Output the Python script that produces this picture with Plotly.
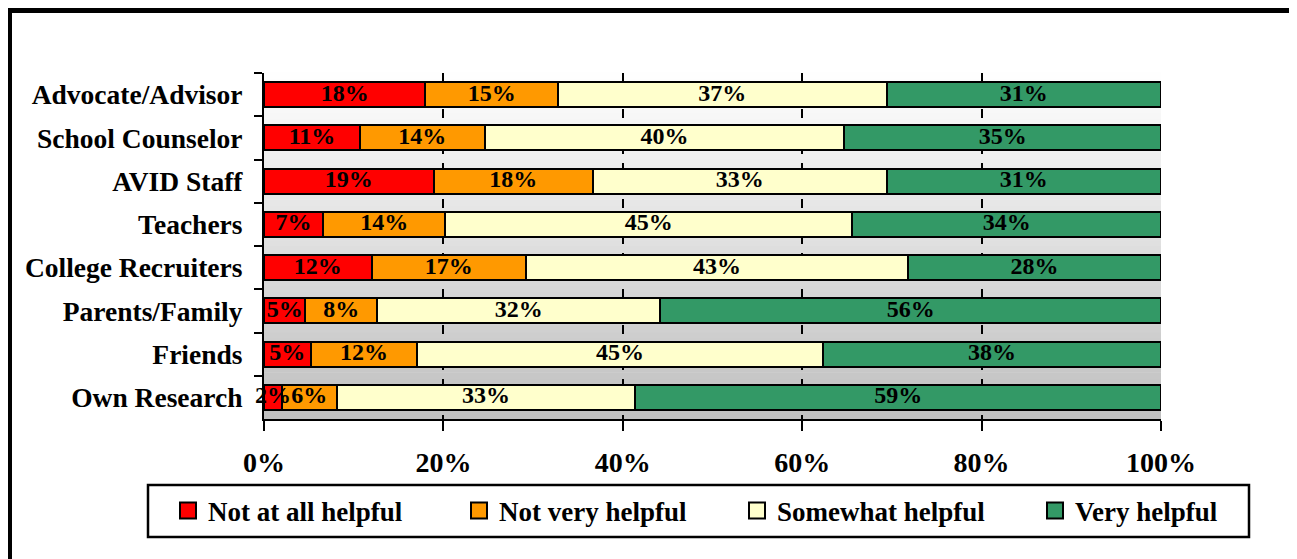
import plotly.graph_objects as go

categories = ["Advocate/Advisor", "School Counselor", "AVID Staff", "Teachers",
              "College Recruiters", "Parents/Family", "Friends", "Own Research"]
series_names = ["Not at all helpful", "Not very helpful", "Somewhat helpful", "Very helpful"]
not_at_all = [18.0, 10.7, 18.9, 6.6, 12.0, 4.6, 5.2, 2.0]
not_very = [14.8, 13.9, 17.8, 13.6, 17.2, 8.0, 11.9, 6.1]
somewhat = [36.6, 40.1, 32.7, 45.4, 42.6, 31.6, 45.2, 33.3]
very = [30.6, 35.3, 30.6, 34.4, 28.2, 55.8, 37.7, 58.6]
x_tick_vals = [0, 20, 40, 60, 80, 100]
x_tick_text = ["0%", "20%", "40%", "60%", "80%", "100%"]

colors = ["#ff0000", "#ff9900", "#ffffcc", "#339966"]
series_values = [not_at_all, not_very, somewhat, very]

# page body has an 8px margin; layout coordinates below are reference pixels
OFF = 8
W, H = 1297 - OFF, 559 - OFF
L, R, T, B = 264, 1161, 73, 419
FONT = "Liberation Serif, Times New Roman, serif"


def px_x(p):
    return (p - L) / (R - L)


def px_y(p):
    return (B - p) / (B - T)


fig = go.Figure()
for name, vals, col in zip(series_names, series_values, colors):
    fig.add_trace(go.Bar(
        y=categories, x=vals, name=name, orientation="h",
        marker=dict(color=col, line=dict(color="black", width=2)),
        showlegend=False, hoverinfo="skip",
    ))

# value labels drawn on top of all bars, centred in each segment
starts = [0.0] * len(categories)
for vals in series_values:
    mids = [s + v / 2 for s, v in zip(starts, vals)]
    fig.add_trace(go.Scatter(
        x=mids, y=categories, mode="text", cliponaxis=False,
        text=[f"{v:.0f}%" for v in vals], textposition="middle center",
        textfont=dict(family=FONT, size=24, color="black", weight="bold"),
        showlegend=False, hoverinfo="skip",
    ))
    starts = [s + v for s, v in zip(starts, vals)]

# legend entries
legend_ids = ["legend", "legend2", "legend3", "legend4"]
for name, col, lg in zip(series_names, colors, legend_ids):
    fig.add_trace(go.Scatter(
        x=[None], y=[None], mode="markers", name=name, legend=lg,
        marker=dict(symbol="square", size=16, color=col,
                    line=dict(color="black", width=2)),
    ))

shapes = []
# gradient background bands
n = 60
for i in range(n):
    f0, f1 = i / n, (i + 1) / n
    fm = (f0 + f1) / 2
    v = int(round(191 + (255 - 191) * fm))
    shapes.append(dict(type="rect", xref="x domain", yref="y domain",
                       x0=0, x1=1, y0=f0, y1=f1 + 0.002, layer="below",
                       line=dict(width=0), fillcolor=f"rgb({v},{v},{v})"))
# outer frame
shapes.append(dict(type="line", xref="paper", yref="paper",
                   x0=px_x(9.5), x1=px_x(9.5), y0=px_y(8), y1=px_y(570),
                   line=dict(color="black", width=5)))
shapes.append(dict(type="line", xref="paper", yref="paper",
                   x0=px_x(7), x1=px_x(1297), y0=px_y(10.5), y1=px_y(10.5),
                   line=dict(color="black", width=5)))
shapes.append(dict(type="line", xref="paper", yref="paper",
                   x0=px_x(1295), x1=px_x(1295), y0=px_y(10), y1=px_y(570),
                   line=dict(color="#333333", width=1.5)))
# legend box
shapes.append(dict(type="rect", xref="paper", yref="paper",
                   x0=px_x(148), x1=px_x(1249), y0=px_y(485), y1=px_y(537),
                   line=dict(color="black", width=2.5), fillcolor="white",
                   layer="below"))

text_starts = [208, 499, 777, 1075]
layout_legends = {}
for lg, ts in zip(legend_ids, text_starts):
    layout_legends[lg] = dict(
        x=px_x(ts - 40), y=px_y(511), xanchor="left", yanchor="middle",
        orientation="h", bgcolor="rgba(0,0,0,0)", borderwidth=0,
        font=dict(family=FONT, size=27, color="black", weight="bold"),
        itemclick=False, itemdoubleclick=False,
    )

fig.update_layout(
    width=W, height=H,
    margin=dict(l=L - OFF, r=W - (R - OFF), t=T - OFF, b=H - (B - OFF), pad=0),
    paper_bgcolor="white", plot_bgcolor="rgba(0,0,0,0)",
    barmode="stack", bargap=0.42,
    showlegend=True,
    shapes=shapes,
    **layout_legends,
)
fig.update_xaxes(
    range=[0, 100], tickvals=x_tick_vals, ticktext=x_tick_text,
    showgrid=True, gridcolor="black", gridwidth=2, griddash="dash",
    zeroline=False, showline=True, linecolor="black", linewidth=2,
    ticks="outside", ticklen=10, tickwidth=2, tickcolor="black",
    ticklabelstandoff=7,
    tickfont=dict(family=FONT, size=28, color="black", weight="bold"),
    fixedrange=True,
)
fig.update_yaxes(
    autorange="reversed", tickson="boundaries",
    showgrid=False, zeroline=False, showline=True, linecolor="black", linewidth=2,
    ticks="outside", ticklen=8, tickwidth=2, tickcolor="black",
    ticklabelstandoff=14,
    tickfont=dict(family=FONT, size=27.5, color="black", weight="bold"),
    fixedrange=True,
)

fig.write_html("out.html", config={"displayModeBar": False})
